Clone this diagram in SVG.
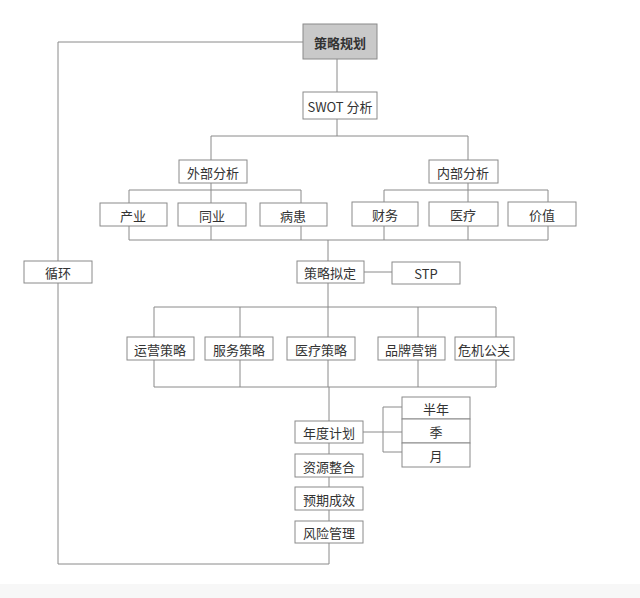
<svg xmlns="http://www.w3.org/2000/svg" width="640" height="598" viewBox="0 0 640 598">
<style>
.box{fill:#fff;stroke:#8a8a8a;stroke-width:1}
.top{fill:#c9c9c9;stroke:#8a8a8a;stroke-width:1}
.t{font-family:"Noto Sans CJK SC","Liberation Sans",sans-serif;font-size:13px;fill:#333;text-anchor:middle;dominant-baseline:central}
.c{fill:none;stroke:#8a8a8a;stroke-width:1}
</style>
<rect x="0" y="0" width="640" height="598" fill="#fff"/>
<rect x="0" y="584" width="640" height="14" fill="#f7f7f7"/>
<g id="connectors" class="c">
<path d="M303 42H58V564H329"/>
<path d="M337 59V92"/>
<path d="M337 119V136M211 136H468M211 136V160M468 136V160"/>
<path d="M211 183V203M129 190H301M129 190V203M301 190V203"/>
<path d="M468 183V202M384 190H548M384 190V202M548 190V202"/>
<path d="M129 226V240M211 226V240M301 226V240M384 226V240M468 226V240M548 226V240M129 240H548"/>
<path d="M328 240V261"/>
<path d="M364 272H392"/>
<path d="M328 283V337M154 307H496M154 307V337M240 307V337M418 307V337M496 307V337"/>
<path d="M154 360V387M240 360V387M328 360V387M418 360V387M496 360V387M154 387H496"/>
<path d="M329 387V421M329 443V454M329 477V487M329 510V521M329 543V564"/>
<path d="M363 432H402M383 407V452M383 407H402M383 452H402"/>
</g>
<g id="n1"><rect class="top" x="303" y="24" width="74" height="35"/><text class="t" x="340" y="42" font-weight="bold">策略规划</text></g>
<g id="n2"><rect class="box" x="303" y="92" width="74" height="27"/><text class="t" x="340" y="106">SWOT 分析</text></g>
<g id="n3"><rect class="box" x="179" y="160" width="68" height="23"/><text class="t" x="213" y="172">外部分析</text></g>
<g id="n4"><rect class="box" x="429" y="160" width="69" height="23"/><text class="t" x="463" y="172">内部分析</text></g>
<g id="n5"><rect class="box" x="100" y="203" width="67" height="23"/><text class="t" x="133" y="215">产业</text></g>
<g id="n6"><rect class="box" x="178" y="203" width="68" height="23"/><text class="t" x="212" y="215">同业</text></g>
<g id="n7"><rect class="box" x="260" y="203" width="67" height="23"/><text class="t" x="293" y="215">病患</text></g>
<g id="n8"><rect class="box" x="352" y="202" width="66" height="24"/><text class="t" x="385" y="214">财务</text></g>
<g id="n9"><rect class="box" x="429" y="202" width="69" height="24"/><text class="t" x="463" y="214">医疗</text></g>
<g id="n10"><rect class="box" x="508" y="202" width="68" height="24"/><text class="t" x="542" y="214">价值</text></g>
<g id="n11"><rect class="box" x="24" y="261" width="68" height="22"/><text class="t" x="58" y="272">循环</text></g>
<g id="n12"><rect class="box" x="297" y="261" width="67" height="22"/><text class="t" x="330" y="272">策略拟定</text></g>
<g id="n13"><rect class="box" x="392" y="262" width="68" height="22"/><text class="t" x="426" y="273">STP</text></g>
<g id="n14"><rect class="box" x="127" y="337" width="67" height="23"/><text class="t" x="160" y="349">运营策略</text></g>
<g id="n15"><rect class="box" x="205" y="337" width="68" height="23"/><text class="t" x="239" y="349">服务策略</text></g>
<g id="n16"><rect class="box" x="287" y="337" width="68" height="23"/><text class="t" x="321" y="349">医疗策略</text></g>
<g id="n17"><rect class="box" x="378" y="337" width="67" height="23"/><text class="t" x="411" y="349">品牌营销</text></g>
<g id="n18"><rect class="box" x="455" y="337" width="59" height="23"/><text class="t" x="484" y="349">危机公关</text></g>
<g id="n19"><rect class="box" x="295" y="421" width="68" height="22"/><text class="t" x="329" y="432">年度计划</text></g>
<g id="n20"><rect class="box" x="402" y="397" width="68" height="22"/><text class="t" x="436" y="408">半年</text></g>
<g id="n21"><rect class="box" x="402" y="419" width="68" height="24"/><text class="t" x="436" y="431">季</text></g>
<g id="n22"><rect class="box" x="402" y="443" width="68" height="24"/><text class="t" x="436" y="455">月</text></g>
<g id="n23"><rect class="box" x="295" y="454" width="68" height="23"/><text class="t" x="329" y="466">资源整合</text></g>
<g id="n24"><rect class="box" x="295" y="487" width="68" height="23"/><text class="t" x="329" y="499">预期成效</text></g>
<g id="n25"><rect class="box" x="295" y="521" width="68" height="22"/><text class="t" x="329" y="532">风险管理</text></g>
</svg>
